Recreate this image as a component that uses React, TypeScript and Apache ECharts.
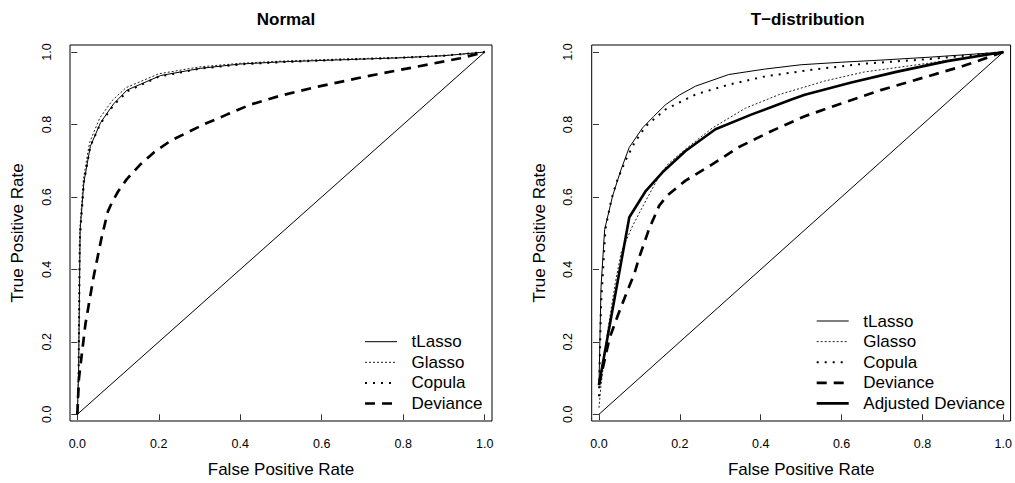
import React, { useEffect, useRef } from "react";
import * as echarts from "echarts";

const FONT = '"Liberation Sans", Arial, Helvetica, sans-serif';

// ---- Data (x = False Positive Rate, y = True Positive Rate) ----
const panelTitles = ["Normal", "T\u2212distribution"];
const tickValues = [0, 0.2, 0.4, 0.6, 0.8, 1.0];
const legendNormal = ["tLasso", "Glasso", "Copula", "Deviance"];
const legendT = ["tLasso", "Glasso", "Copula", "Deviance", "Adjusted Deviance"];

const diagonal: [number, number][] = [[0, 0], [1, 1]];

const normalTLasso: [number, number][] = [
  [0, 0], [0.003, 0.11], [0.007, 0.51], [0.016, 0.64], [0.032, 0.74], [0.057, 0.805],
  [0.089, 0.857], [0.122, 0.895], [0.204, 0.935], [0.302, 0.955], [0.4, 0.967],
  [0.5, 0.973], [0.63, 0.978], [0.79, 0.984], [0.9, 0.99], [1, 1],
];
const normalGlasso: [number, number][] = [
  [0, 0], [0.003, 0.12], [0.006, 0.51], [0.015, 0.65], [0.03, 0.75], [0.055, 0.818],
  [0.087, 0.868], [0.12, 0.902], [0.2, 0.94], [0.3, 0.959], [0.4, 0.969],
  [0.5, 0.975], [0.63, 0.98], [0.79, 0.985], [0.9, 0.99], [1, 1],
];
const normalCopula: [number, number][] = [
  [0, 0], [0.003, 0.1], [0.006, 0.48], [0.016, 0.64], [0.032, 0.74], [0.057, 0.803],
  [0.09, 0.855], [0.125, 0.893], [0.2, 0.932], [0.3, 0.954], [0.4, 0.966],
  [0.5, 0.972], [0.63, 0.978], [0.79, 0.984], [0.9, 0.99], [1, 1],
];
const normalDeviance: [number, number][] = [
  [0, 0], [0.004, 0.1], [0.02, 0.25], [0.04, 0.38], [0.06, 0.49], [0.075, 0.56],
  [0.085, 0.585], [0.1, 0.615], [0.122, 0.65], [0.155, 0.69], [0.188, 0.723],
  [0.229, 0.755], [0.27, 0.778], [0.31, 0.8], [0.368, 0.828], [0.425, 0.855],
  [0.5, 0.88], [0.58, 0.902], [0.71, 0.933], [0.835, 0.96], [0.94, 0.983], [1, 1],
];

const tTLasso: [number, number][] = [
  [0, 0.08], [0.005, 0.35], [0.014, 0.51], [0.034, 0.604], [0.055, 0.677],
  [0.075, 0.737], [0.108, 0.791], [0.135, 0.822], [0.165, 0.855], [0.2, 0.882],
  [0.239, 0.906], [0.321, 0.938], [0.41, 0.953], [0.5, 0.965], [0.6, 0.972],
  [0.7, 0.978], [0.82, 0.986], [1, 1],
];
const tGlasso: [number, number][] = [
  [0, 0.018], [0.005, 0.08], [0.02, 0.22], [0.04, 0.36], [0.055, 0.448],
  [0.083, 0.52], [0.116, 0.59], [0.15, 0.66], [0.17, 0.69], [0.214, 0.732],
  [0.28, 0.79], [0.362, 0.845], [0.444, 0.882], [0.558, 0.92], [0.656, 0.945],
  [0.82, 0.97], [1, 1],
];
const tCopula: [number, number][] = [
  [0, 0.05], [0.005, 0.3], [0.016, 0.512], [0.03, 0.59], [0.043, 0.64],
  [0.067, 0.704], [0.088, 0.75], [0.116, 0.796], [0.165, 0.842], [0.239, 0.883],
  [0.321, 0.91], [0.411, 0.933], [0.525, 0.951], [0.656, 0.968], [0.82, 0.981], [1, 1],
];
const tDeviance: [number, number][] = [
  [0, 0.08], [0.026, 0.21], [0.047, 0.274], [0.07, 0.34], [0.088, 0.39],
  [0.1, 0.435], [0.124, 0.512], [0.149, 0.576], [0.169, 0.604], [0.214, 0.645],
  [0.28, 0.69], [0.345, 0.737], [0.427, 0.782], [0.509, 0.823], [0.6, 0.858],
  [0.697, 0.895], [0.804, 0.93], [0.902, 0.962], [1, 1],
];
const tAdjusted: [number, number][] = [
  [0, 0.082], [0.075, 0.544], [0.116, 0.617], [0.157, 0.668], [0.214, 0.727],
  [0.288, 0.787], [0.378, 0.828], [0.476, 0.869], [0.509, 0.882], [0.624, 0.916],
  [0.738, 0.946], [0.861, 0.975], [1, 1],
];

// ---- Styles ----
const lineStyles: Record<string, { width: number; type: any; color: string }> = {
  tLasso: { width: 1, type: "solid", color: "#000" },
  Glasso: { width: 1, type: [2, 2], color: "#222" },
  Copula: { width: 2, type: [2, 6], color: "#000" },
  Deviance: { width: 2.7, type: [10, 7], color: "#000" },
  "Adjusted Deviance": { width: 2.6, type: "solid", color: "#000" },
};

const GRID_TOP = 45;
const GRID_H = 378.3;
const GRID_W = 422;
const gridLefts = [70, 591.7];

export default function App() {
  const ref = useRef<HTMLDivElement>(null);
  useEffect(() => {
    if (!ref.current) return;
    const chart = echarts.init(ref.current, undefined, { renderer: "svg" });

    const mkSeries = (name: string, data: [number, number][], idx: number) => ({
      type: "line",
      name,
      data,
      xAxisIndex: idx,
      yAxisIndex: idx,
      symbol: "none",
      smooth: false,
      lineStyle: {
        color: lineStyles[name].color,
        width: lineStyles[name].width,
        type: lineStyles[name].type,
        cap: "butt",
      },
      silent: true,
      z: name === "Adjusted Deviance" ? 4 : 3,
    });
    const diag = (idx: number) => ({
      type: "line",
      name: "diag" + idx,
      data: diagonal,
      xAxisIndex: idx,
      yAxisIndex: idx,
      symbol: "none",
      lineStyle: { color: "#000", width: 1 },
      silent: true,
    });

    const xAxisBase = (idx: number) => ({
      type: "value",
      gridIndex: idx,
      min: -0.018,
      max: 1.018,
      name: "False Positive Rate",
      nameLocation: "middle",
      nameGap: 40,
      nameTextStyle: { fontFamily: FONT, fontSize: 17, color: "#000" },
      axisLine: { show: false },
      splitLine: { show: false },
      axisTick: { show: true, length: 6, customValues: tickValues, lineStyle: { color: "#333", width: 1 } },
      axisLabel: {
        customValues: tickValues,
        formatter: (v: number) => v.toFixed(1),
        fontFamily: FONT,
        fontSize: 12.5,
        color: "#000",
        margin: 16,
      },
    });
    const yAxisBase = (idx: number) => ({
      type: "value",
      gridIndex: idx,
      min: -0.0185,
      max: 1.0195,
      name: "True Positive Rate",
      nameLocation: "middle",
      nameGap: 44,
      nameTextStyle: { fontFamily: FONT, fontSize: 17, color: "#000" },
      axisLine: { show: false },
      splitLine: { show: false },
      axisTick: { show: true, length: 6, customValues: tickValues, lineStyle: { color: "#333", width: 1 } },
      axisLabel: {
        customValues: tickValues,
        formatter: (v: number) => v.toFixed(1),
        rotate: 90,
        fontFamily: FONT,
        fontSize: 12.5,
        color: "#000",
        margin: 17,
      },
    });

    // Legend drawn with graphic elements
    const legendGraphic = (names: string[], lineX: number, textX: number, firstY: number) => {
      const els: any[] = [];
      names.forEach((n, i) => {
        const y = firstY + i * 20.6;
        const st = lineStyles[n];
        els.push({
          type: "line",
          shape: { x1: lineX, y1: y, x2: lineX + 32, y2: y },
          style: {
            stroke: st.color,
            lineWidth: st.width,
            lineDash: Array.isArray(st.type) ? st.type : null,
            lineCap: "butt",
          },
          silent: true,
        });
        els.push({
          type: "text",
          x: textX,
          y: y,
          style: {
            text: n,
            fontFamily: FONT,
            fontSize: 17,
            fill: "#000",
            verticalAlign: "middle",
            align: "left",
          },
          silent: true,
        });
      });
      return els;
    };

    chart.setOption({
      animation: false,
      backgroundColor: "#fff",
      title: panelTitles.map((t, i) => ({
        text: t,
        left: gridLefts[i] + GRID_W / 2,
        textAlign: "center",
        top: 6,
        textStyle: { fontFamily: FONT, fontSize: 17, fontWeight: "bold", color: "#000" },
      })),
      grid: gridLefts.map((l) => ({
        left: l,
        top: GRID_TOP,
        width: GRID_W,
        height: GRID_H,
        show: true,
        borderColor: "#000",
        borderWidth: 1,
        backgroundColor: "transparent",
        containLabel: false,
      })),
      xAxis: [xAxisBase(0), xAxisBase(1)],
      yAxis: [yAxisBase(0), yAxisBase(1)],
      series: [
        diag(0),
        mkSeries("tLasso", normalTLasso, 0),
        mkSeries("Glasso", normalGlasso, 0),
        mkSeries("Copula", normalCopula, 0),
        mkSeries("Deviance", normalDeviance, 0),
        diag(1),
        mkSeries("tLasso", tTLasso, 1),
        mkSeries("Glasso", tGlasso, 1),
        mkSeries("Copula", tCopula, 1),
        mkSeries("Deviance", tDeviance, 1),
        mkSeries("Adjusted Deviance", tAdjusted, 1),
      ],
      graphic: [
        ...legendGraphic(legendNormal, 365, 411.5, 341.7),
        ...legendGraphic(legendT, 816.7, 863.3, 321),
      ],
    });

    return () => chart.dispose();
  }, []);

  return (
    <div
      ref={ref}
      style={{ position: "fixed", left: 0, top: 0, width: 1015, height: 483, background: "#fff" }}
    />
  );
}
